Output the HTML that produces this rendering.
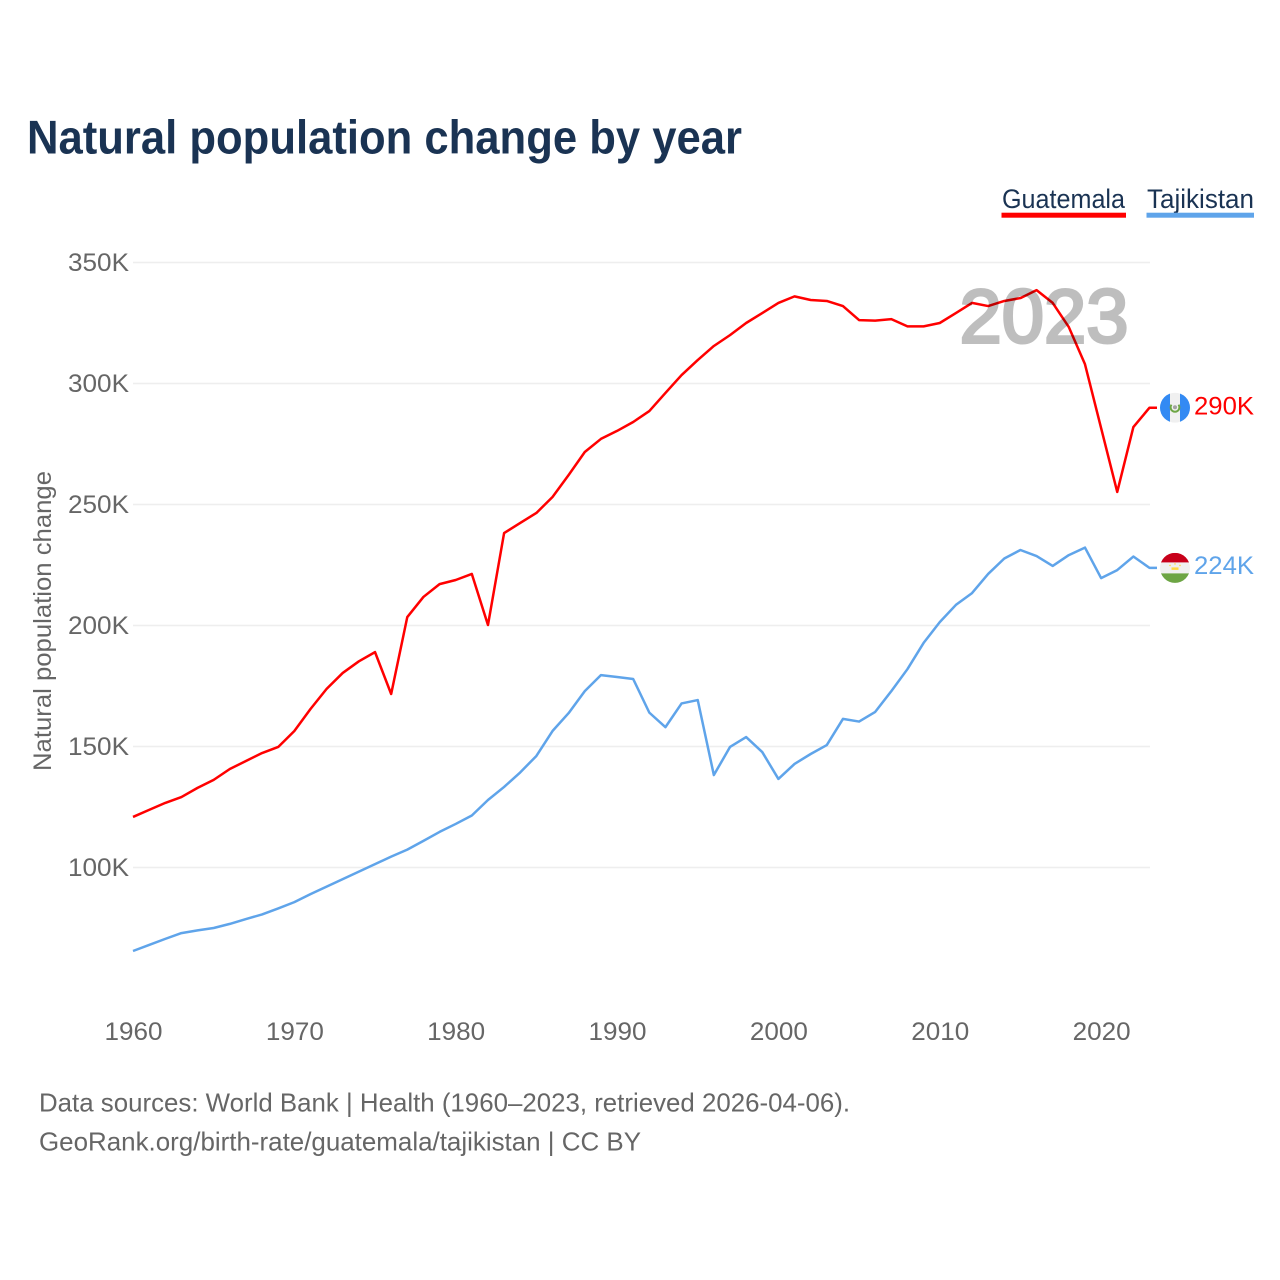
<!DOCTYPE html>
<html lang="en">
<head>
<meta charset="utf-8">
<title>Natural population change by year</title>
<style>
html,body{margin:0;padding:0;background:#fff}
svg{display:block}
text{font-family:"Liberation Sans",sans-serif}
</style>
</head>
<body>
<svg id="chart" xmlns="http://www.w3.org/2000/svg" width="1280" height="1280" viewBox="0 0 1280 1280">
  <defs>
    <clipPath id="flag-clip"><circle cx="0" cy="0" r="15"></circle></clipPath>
  </defs>
  <rect x="0" y="0" width="1280" height="1280" fill="#ffffff"></rect>
  <text x="27" y="153.5" font-size="47" font-weight="700" fill="#1a3353" textLength="715" lengthAdjust="spacingAndGlyphs">Natural population change by year</text>

  <text x="1002" y="208" font-size="27" fill="#1a3353" textLength="123" lengthAdjust="spacingAndGlyphs">Guatemala</text>
  <rect x="1001.5" y="212.7" width="124.5" height="5" fill="#ff0000"></rect>
  <text x="1147" y="208" font-size="27" fill="#1a3353" textLength="107" lengthAdjust="spacingAndGlyphs">Tajikistan</text>
  <rect x="1146.5" y="212.7" width="107.5" height="5" fill="#5fa4ea"></rect>

  <g id="grid"></g>
  <g id="y-ticks"></g>
  <g id="x-ticks"></g>
  <text transform="translate(51,621) rotate(-90)" font-size="25" fill="#666666" text-anchor="middle" textLength="300" lengthAdjust="spacingAndGlyphs">Natural population change</text>
  <g id="series"></g>
  <text x="1128.5" y="342.5" font-size="76" fill="#000000" stroke="#000000" stroke-width="3" opacity="0.25" text-anchor="end" textLength="169" lengthAdjust="spacingAndGlyphs">2023</text>

  <g id="flag-guatemala">
    <g clip-path="url(#flag-clip)">
      <rect x="-15" y="-15" width="30" height="30" fill="#f0f0f0"></rect>
      <rect x="-15" y="-15" width="10" height="30" fill="#338af3"></rect>
      <rect x="5" y="-15" width="10" height="30" fill="#338af3"></rect>
      <path d="M-3.5,-3 A4.4,4.4 0 1 0 3.5,-3" fill="none" stroke="#6da544" stroke-width="2"></path>
      <circle cx="0" cy="-0.5" r="2" fill="#a2a2a2"></circle>
    </g>
  </g>
  <g id="flag-tajikistan">
    <g clip-path="url(#flag-clip)">
      <rect x="-15" y="-15" width="30" height="30" fill="#f0f0f0"></rect>
      <rect x="-15" y="-15" width="30" height="9.5" fill="#c8001a"></rect>
      <rect x="-15" y="5.5" width="30" height="10" fill="#6da544"></rect>
      <rect x="-3.5" y="-0.5" width="7" height="2.5" fill="#ffda44"></rect>
      <circle cx="-5" cy="-2.5" r="0.8" fill="#ffda44"></circle>
      <circle cx="0" cy="-4" r="0.8" fill="#ffda44"></circle>
      <circle cx="5" cy="-2.5" r="0.8" fill="#ffda44"></circle>
    </g>
  </g>
  <text id="value-guatemala" x="1194" font-size="25" fill="#ff0000" textLength="60" lengthAdjust="spacingAndGlyphs"></text>
  <text id="value-tajikistan" x="1194" font-size="25" fill="#5fa4ea" textLength="60" lengthAdjust="spacingAndGlyphs"></text>

  <text x="39" y="1111.5" font-size="26" fill="#666666" textLength="811" lengthAdjust="spacingAndGlyphs">Data sources: World Bank | Health (1960–2023, retrieved 2026-04-06).</text>
  <text x="39" y="1150.5" font-size="26" fill="#666666" textLength="602" lengthAdjust="spacingAndGlyphs">GeoRank.org/birth-rate/guatemala/tajikistan | CC BY</text>
</svg>
<script>
var firstYear = 1960;
var guatemalaValues = [120.9,123.8,126.7,129.1,132.9,136.2,140.7,144,147.3,149.8,156.4,165.5,173.8,180.4,185.2,189,171.7,203.5,211.8,217.1,218.8,221.3,200.2,238.2,242.4,246.5,253.1,262.2,271.7,277.1,280.4,284.1,288.6,296.1,303.5,309.7,315.5,320,325,329.1,333.3,336,334.5,334.1,332,326.2,326,326.6,323.6,323.6,325,329.1,333.3,332,334.1,335.3,338.6,333.3,323.3,308,281.6,255.2,282,290];
var tajikistanValues = [65.5,68,70.5,72.9,74,75,76.7,78.7,80.6,83.1,85.7,89,92.1,95.2,98.3,101.4,104.5,107.4,111,114.7,118,121.5,127.9,133.3,139.3,146.1,156.4,163.8,172.9,179.5,178.7,177.9,164,158,167.8,169.2,138.2,149.8,153.9,147.7,136.6,142.8,146.9,150.6,161.4,160.3,164.3,172.9,182,192.8,201.4,208.5,213.4,221.3,227.7,231.2,228.7,224.6,229.1,232.2,219.6,222.9,228.5,223.8];
var yTickValues = [100,150,200,250,300,350];
var xTickYears = [1960,1970,1980,1990,2000,2010,2020];

var NS = 'http://www.w3.org/2000/svg';
function xScale(year) { return 133 + (year - 1960) * (1149.5 - 133) / 63; }
function yScale(value) { return 867.5 - (value - 100) * 2.42; }

function make(tag, attrs, parent) {
  var el = document.createElementNS(NS, tag);
  for (var k in attrs) { el.setAttribute(k, attrs[k]); }
  parent.appendChild(el);
  return el;
}

var grid = document.getElementById('grid');
var yTicks = document.getElementById('y-ticks');
yTickValues.forEach(function (v) {
  var line = make('line', {x1: 133, x2: 1150, y1: yScale(v), y2: yScale(v), stroke: '#eeeeee', 'stroke-width': 1.5}, grid);
  
  
  var label = make('text', {x: 129, y: yScale(v) + 8.5, 'font-size': 25, fill: '#666666', 'text-anchor': 'end', textLength: 61, lengthAdjust: 'spacingAndGlyphs'}, yTicks);
  
  
  label.textContent = v + 'K';
});

var xTicks = document.getElementById('x-ticks');
xTickYears.forEach(function (yr) {
  var label = make('text', {x: xScale(yr) + 0.5, y: 1040, 'font-size': 25, fill: '#666666', 'text-anchor': 'middle', textLength: 58, lengthAdjust: 'spacingAndGlyphs'}, xTicks);
  
  
  label.textContent = yr;
});

function drawSeries(values, color) {
  var pts = values.map(function (v, i) { return xScale(firstYear + i).toFixed(2) + ',' + yScale(v).toFixed(2); });
  var lastY = yScale(values[values.length - 1]);
  pts.push('1157,' + lastY.toFixed(2));
  var line = make('polyline', {points: pts.join(' '), fill: 'none', stroke: color, 'stroke-width': 2.5, 'stroke-linejoin': 'round'}, document.getElementById('series'));
  return line;
}
var guatemalaLine = drawSeries(guatemalaValues, '#ff0000');


var tajikistanLine = drawSeries(tajikistanValues, '#5fa4ea');



function placeEnd(values, flagId, labelId, baselineOffset) {
  var v = values[values.length - 1];
  var y = yScale(v);
  document.getElementById(flagId).setAttribute('transform', 'translate(1175,' + y.toFixed(2) + ')');
  var t = document.getElementById(labelId);
  t.setAttribute('y', (y + baselineOffset).toFixed(2));
  t.textContent = Math.round(v) + 'K';
}
placeEnd(guatemalaValues, 'flag-guatemala', 'value-guatemala', 7);
placeEnd(tajikistanValues, 'flag-tajikistan', 'value-tajikistan', 6);
</script>
</body>
</html>
